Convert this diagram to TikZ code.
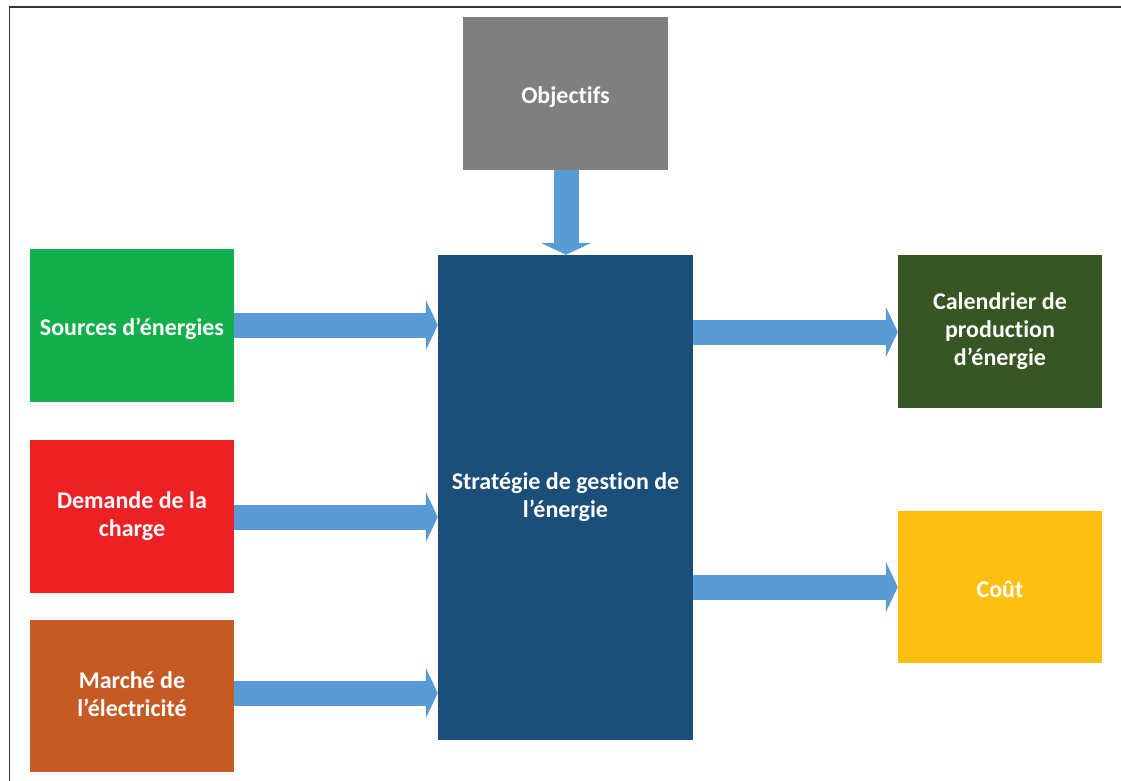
\documentclass[tikz,border=0pt]{standalone}
\usepackage{fontspec}
\setmainfont[Ligatures=NoCommon]{Carlito}
\usetikzlibrary{arrows.meta,calc}

\definecolor{objgray}{HTML}{7F7F7F}
\definecolor{srcgreen}{HTML}{14AF4D}
\definecolor{loadred}{HTML}{ED2024}
\definecolor{mktorange}{HTML}{C55A24}
\definecolor{coreblue}{HTML}{1B4E78}
\definecolor{plangreen}{HTML}{375623}
\definecolor{costyellow}{HTML}{FCBF12}
\definecolor{flowblue}{HTML}{5B9BD5}
\definecolor{framegray}{HTML}{333333}

% fixed line height so every label sits at the same optical centre
\newcommand{\linestrut}{\rule[-4pt]{0pt}{28pt}}

\tikzset{
  blockbox/.style={rectangle, inner sep=0pt, align=center, text=white,
    font=\bfseries\fontsize{24}{28}\selectfont,
    minimum width=204pt, minimum height=153pt,
    execute at begin node=\linestrut, execute at end node=\linestrut},
  flow/.style={draw=flowblue, line width=25pt,
    -{Triangle[length=12pt,width=50pt]}},
}

\begin{document}
\begin{tikzpicture}[x=1pt,y=-1pt]
  \useasboundingbox (0,0) rectangle (1121,781);
  % page frame (top and left edges)
  \draw[framegray, line width=1.2pt] (9.5,781) -- (9.5,7) -- (1121,7);

  % blocks
  \node[blockbox, fill=objgray, minimum width=205pt] (obj) at (565.5,93.5) {Objectifs};
  \node[blockbox, fill=srcgreen] (src) at (132,325.5) {Sources d’énergies};
  \node[blockbox, fill=loadred] (load) at (132,516.5) {Demande de la\\charge};
  \node[blockbox, fill=mktorange, minimum height=152pt] (mkt) at (132,696) {Marché de\\l’électricité};
  \node[blockbox, fill=coreblue, minimum width=255pt, minimum height=485pt] (core) at (565.5,497.5)
    {Stratégie de gestion de\\l’énergie};
  \node[blockbox, fill=plangreen] (plan) at (1000,331.5) {Calendrier de\\production\\d’énergie};
  \node[blockbox, fill=costyellow, minimum height=152pt] (cost) at (1000,587) {Coût};

  % flow levels
  \coordinate (ysrc) at (0,325);
  \coordinate (yload) at (0,517);
  \coordinate (ymkt) at (0,693);
  \coordinate (yplan) at (0,332);
  \coordinate (ycost) at (0,587);

  % flows
  \draw[flow] (obj.south -| 566,0) -- (core.north -| 566,0);
  \draw[flow] (src.east |- ysrc) -- (core.west |- ysrc);
  \draw[flow] (load.east |- yload) -- (core.west |- yload);
  \draw[flow] (mkt.east |- ymkt) -- (core.west |- ymkt);
  \draw[flow] (core.east |- yplan) -- (plan.west |- yplan);
  \draw[flow] (core.east |- ycost) -- (cost.west |- ycost);
\end{tikzpicture}
\end{document}
